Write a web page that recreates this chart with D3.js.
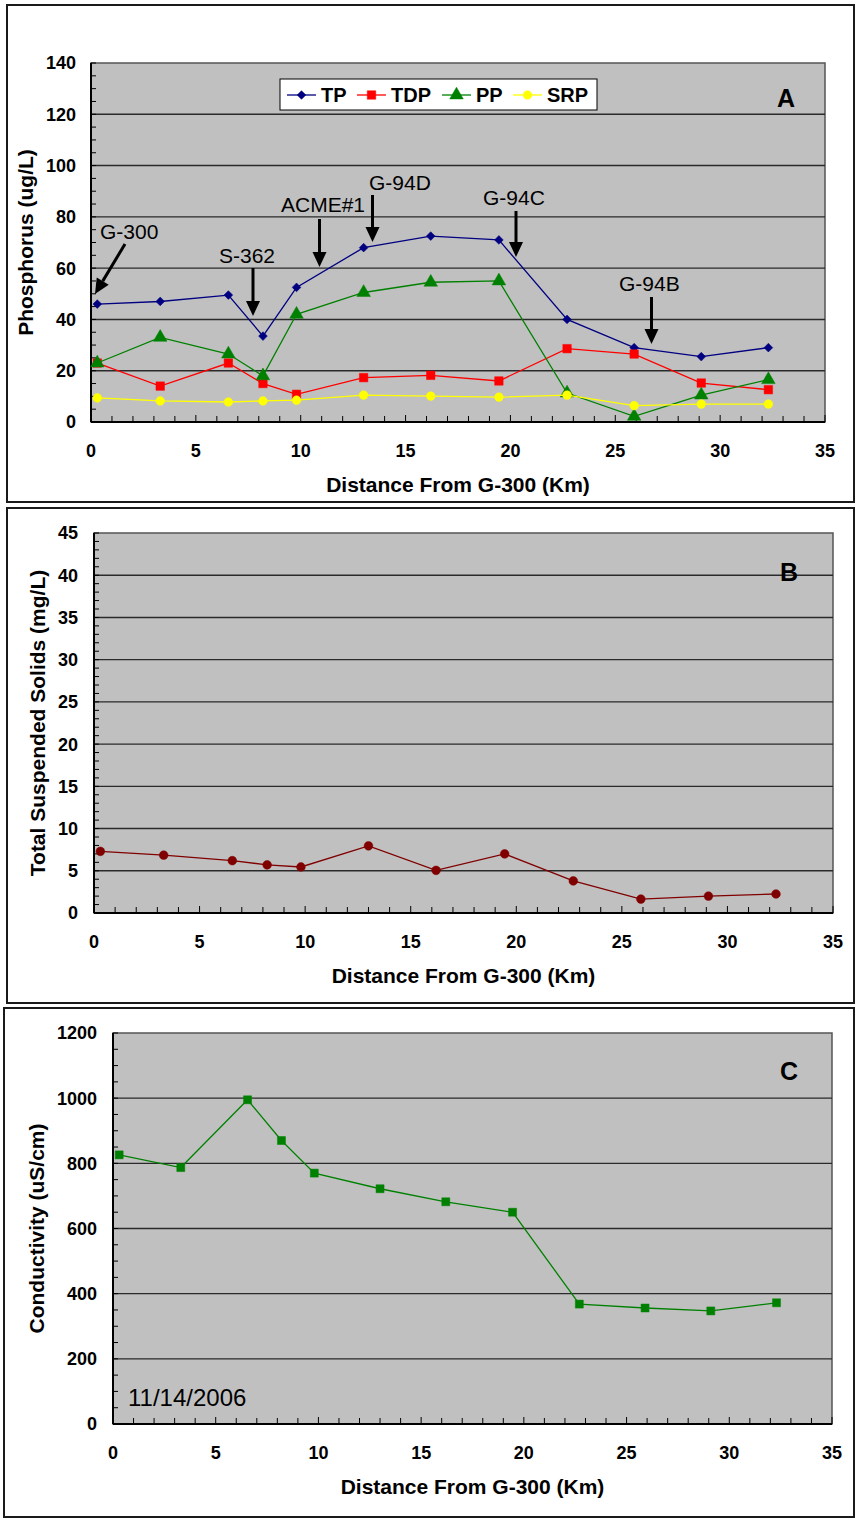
<!DOCTYPE html>
<html>
<head>
<meta charset="utf-8">
<script src="https://cdn.jsdelivr.net/npm/d3@7"></script>
<style>
  html, body { margin: 0; padding: 0; background: #fff; }
  svg { display: block; }
  text { font-family: "Liberation Sans", Arial, sans-serif; }
</style>
</head>
<body>
<svg id="chart" width="857" height="1519"></svg>
<script>
// ---------------- DATA ----------------
const distanceKm = [0.3, 3.3, 6.55, 8.2, 9.8, 13.0, 16.2, 19.45, 22.7, 25.9, 29.1, 32.3];

const tp  = [46, 47, 49.5, 33.5, 52.5, 68, 72.5, 71, 40, 29, 25.5, 29];
const tdp = [23, 14, 23, 15, 10.8, 17.3, 18.2, 16, 28.6, 26.5, 15.2, 12.6];
const pp  = [23, 33, 26.5, 18, 42, 50.5, 54.5, 55, 11.3, 2.2, 10.5, 16.5];
const srp = [9.4, 8.2, 7.8, 8.2, 8.5, 10.5, 10.1, 9.7, 10.5, 6.4, 7.0, 7.0];

const tss = [7.3, 6.85, 6.2, 5.7, 5.45, 7.95, 5.05, 7.0, 3.8, 1.65, 2.0, 2.25];

const conductivity = [826, 787, 995, 870, 770, 722, 682, 650, 368, 356, 347, 372];

const xTicks = [0, 5, 10, 15, 20, 25, 30, 35];
const yTicksA = [0, 20, 40, 60, 80, 100, 120, 140];
const yTicksB = [0, 5, 10, 15, 20, 25, 30, 35, 40, 45];
const yTicksC = [0, 200, 400, 600, 800, 1000, 1200];

const seriesNamesA = ["TP", "TDP", "PP", "SRP"];

// station annotation labels
const stationLabels = ["G-300", "S-362", "ACME#1", "G-94D", "G-94C", "G-94B"];

// ---------------- DRAWING ----------------
const svg = d3.select("#chart");

function frame(x0, y0, x1, y1) {
  svg.append("rect")
    .attr("x", x0).attr("y", y0)
    .attr("width", x1 - x0).attr("height", y1 - y0)
    .attr("fill", "#fff").attr("stroke", "#1a1a1a").attr("stroke-width", 2);
}

function panel(opts) {
  const g = svg.append("g");
  const x = d3.scaleLinear().domain([0, 35]).range([opts.left, opts.right]);
  const y = d3.scaleLinear().domain([0, opts.yMax]).range([opts.bottom, opts.top]);

  g.append("rect")
    .attr("x", opts.left).attr("y", opts.top)
    .attr("width", opts.right - opts.left).attr("height", opts.bottom - opts.top)
    .attr("fill", "#c0c0c0").attr("stroke", "#555").attr("stroke-width", 1.5);

  g.selectAll(".grid").data(opts.yTicks.filter(v => v > 0 && v < opts.yMax)).enter()
    .append("line")
    .attr("x1", opts.left).attr("x2", opts.right)
    .attr("y1", d => y(d)).attr("y2", d => y(d))
    .attr("stroke", "#2a2a2a").attr("stroke-width", 1.4);

  const yMinor = d3.range(0, opts.yMax + 1e-9, opts.yMinor);
  g.selectAll(".ymt").data(yMinor).enter().append("line")
    .attr("x1", opts.left).attr("x2", opts.left + 5)
    .attr("y1", d => y(d)).attr("y2", d => y(d))
    .attr("stroke", "#000").attr("stroke-width", 1);
  const xMinor = d3.range(0, 35.001, 1);
  g.selectAll(".xmt").data(xMinor).enter().append("line")
    .attr("x1", d => x(d)).attr("x2", d => x(d))
    .attr("y1", opts.bottom).attr("y2", d => opts.bottom - (d % 5 === 0 ? 7 : 6))
    .attr("stroke", "#000").attr("stroke-width", 1);

  g.append("line").attr("x1", opts.left).attr("x2", opts.left)
    .attr("y1", opts.top).attr("y2", opts.bottom).attr("stroke", "#000").attr("stroke-width", 2);
  g.append("line").attr("x1", opts.left).attr("x2", opts.right)
    .attr("y1", opts.bottom).attr("y2", opts.bottom).attr("stroke", "#000").attr("stroke-width", 2);

  g.selectAll(".yl").data(opts.yTicks).enter().append("text")
    .attr("x", opts.yLabelX).attr("y", d => y(d))
    .attr("dy", "0.36em")
    .attr("text-anchor", "end")
    .attr("font-size", 18).attr("font-weight", "bold")
    .text(d => d);
  g.selectAll(".xl").data(xTicks).enter().append("text")
    .attr("x", d => x(d)).attr("y", opts.bottom + 29)
    .attr("dy", "0.36em")
    .attr("text-anchor", "middle")
    .attr("font-size", 18).attr("font-weight", "bold")
    .text(d => d);

  g.append("text")
    .attr("x", (opts.left + opts.right) / 2).attr("y", opts.bottom + 62)
    .attr("dy", "0.36em")
    .attr("text-anchor", "middle")
    .attr("font-size", 21).attr("font-weight", "bold")
    .text("Distance From G-300 (Km)");
  g.append("text")
    .attr("transform", `translate(${opts.yTitleX},${(opts.top + opts.bottom) / 2}) rotate(-90)`)
    .attr("dy", "0.36em")
    .attr("text-anchor", "middle")
    .attr("font-size", 21).attr("font-weight", "bold")
    .text(opts.yTitle);

  g.append("text")
    .attr("x", opts.letterX).attr("y", opts.letterY)
    .attr("dy", "0.36em")
    .attr("text-anchor", "middle")
    .attr("font-size", 25).attr("font-weight", "bold")
    .text(opts.letter);

  return { g, x, y };
}

function markerPath(shape, size) {
  return d3.symbol().type(shape).size(size)();
}

function drawSeries(g, x, y, values, s) {
  const pts = distanceKm.map((d, i) => [x(d), y(values[i])]);
  g.append("path")
    .attr("d", d3.line()(pts))
    .attr("fill", "none").attr("stroke", s.color).attr("stroke-width", 1.3);
  g.selectAll(null).data(pts).enter().append("path")
    .attr("d", markerPath(s.shape, s.size))
    .attr("transform", p => `translate(${p[0]},${p[1]}) rotate(${s.rot || 0})`)
    .attr("fill", s.color).attr("stroke", s.color).attr("stroke-width", 0.5);
}

// ---------- Panel A ----------
frame(7, 5, 854, 502);
const A = panel({
  left: 91, right: 825, top: 63, bottom: 422, yMax: 140, yMinor: 5,
  yTicks: yTicksA, yLabelX: 76, yTitleX: 25,
  yTitle: "Phosphorus (ug/L)", letter: "A", letterX: 786, letterY: 98
});
const seriesA = [
  { vals: tp,  color: "#000080", shape: d3.symbolSquare, size: 38, rot: 45 },
  { vals: tdp, color: "#ff0000", shape: d3.symbolSquare,  size: 72 },
  { vals: pp,  color: "#008000", shape: d3.symbolTriangle, size: 80 },
  { vals: srp, color: "#ffff00", shape: d3.symbolCircle,  size: 60 }
];
seriesA.forEach(s => drawSeries(A.g, A.x, A.y, s.vals, s));

// Legend
const lg = svg.append("g");
lg.append("rect").attr("x", 280).attr("y", 79).attr("width", 317).attr("height", 31)
  .attr("fill", "#fff").attr("stroke", "#000").attr("stroke-width", 1);
const legendX = [287, 357, 442, 513];
seriesNamesA.forEach((name, i) => {
  const s = seriesA[i];
  const lx = legendX[i];
  lg.append("line").attr("x1", lx).attr("x2", lx + 29).attr("y1", 95).attr("y2", 95)
    .attr("stroke", s.color).attr("stroke-width", 1.3);
  lg.append("path").attr("d", markerPath(s.shape, s.size))
    .attr("transform", `translate(${lx + 14.5},95) rotate(${s.rot || 0})`)
    .attr("fill", s.color).attr("stroke", s.color).attr("stroke-width", 0.5);
  lg.append("text").attr("x", lx + 34).attr("y", 95).attr("dy", "0.36em")
    .attr("font-size", 20).attr("font-weight", "bold").text(name);
});

// Station annotations
const annoGeom = [
  { tx: 100, ty: 239, x1: 125, y1: 244, x2: 95, y2: 294 },
  { tx: 219, ty: 263, x1: 253, y1: 268, x2: 253, y2: 316 },
  { tx: 281, ty: 212, x1: 319.5, y1: 219, x2: 319.5, y2: 267 },
  { tx: 369, ty: 190, x1: 372.5, y1: 195, x2: 372.5, y2: 242 },
  { tx: 483, ty: 205, x1: 516, y1: 211, x2: 516, y2: 257 },
  { tx: 619, ty: 291, x1: 651.5, y1: 297, x2: 651.5, y2: 344 }
];
const an = svg.append("g");
stationLabels.forEach((lab, i) => {
  const a = annoGeom[i];
  an.append("text").attr("x", a.tx).attr("y", a.ty)
    .attr("font-size", 21).attr("fill", "#000").text(lab);
  const ang = Math.atan2(a.y2 - a.y1, a.x2 - a.x1);
  const hl = 15, hw = 7;
  const bx = a.x2 - hl * Math.cos(ang), by = a.y2 - hl * Math.sin(ang);
  an.append("line").attr("x1", a.x1).attr("y1", a.y1).attr("x2", bx).attr("y2", by)
    .attr("stroke", "#000").attr("stroke-width", 3);
  const px = -Math.sin(ang), py = Math.cos(ang);
  an.append("path")
    .attr("d", `M${a.x2},${a.y2}L${bx + px * hw},${by + py * hw}L${bx - px * hw},${by - py * hw}Z`)
    .attr("fill", "#000");
});

// ---------- Panel B ----------
frame(7, 508, 854, 1003);
const B = panel({
  left: 94, right: 833, top: 533, bottom: 913, yMax: 45, yMinor: 1,
  yTicks: yTicksB, yLabelX: 78, yTitleX: 37,
  yTitle: "Total Suspended Solids (mg/L)", letter: "B", letterX: 789, letterY: 572
});
drawSeries(B.g, B.x, B.y, tss, { color: "#800000", shape: d3.symbolCircle, size: 60 });

// ---------- Panel C ----------
frame(4, 1008, 854, 1517);
const C = panel({
  left: 113, right: 832, top: 1033, bottom: 1424, yMax: 1200, yMinor: 50,
  yTicks: yTicksC, yLabelX: 97, yTitleX: 36,
  yTitle: "Conductivity (uS/cm)", letter: "C", letterX: 789, letterY: 1071
});
drawSeries(C.g, C.x, C.y, conductivity, { color: "#008000", shape: d3.symbolSquare, size: 64 });
C.g.append("text").attr("x", 128).attr("y", 1397).attr("dy", "0.36em")
  .attr("font-size", 24).text("11/14/2006");
</script>
</body>
</html>
